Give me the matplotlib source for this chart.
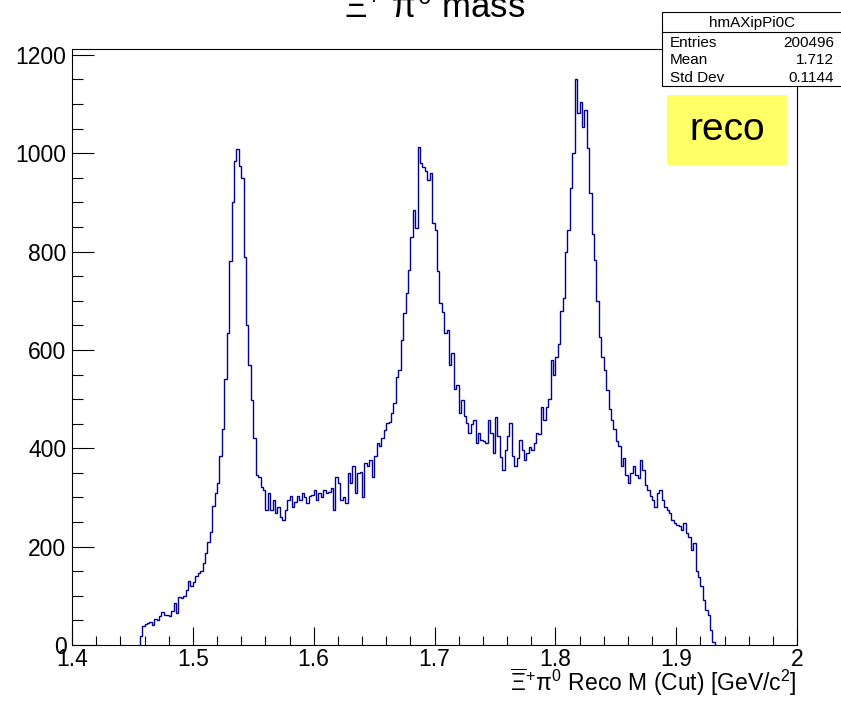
import numpy as np
import matplotlib
matplotlib.use("Agg")
import matplotlib.pyplot as plt
from matplotlib.patches import Rectangle
from matplotlib.lines import Line2D
from matplotlib.ticker import MultipleLocator, FixedLocator, FixedFormatter

plt.rcParams['font.family'] = ['Liberation Sans', 'DejaVu Sans']
plt.rcParams['mathtext.fontset'] = 'custom'
plt.rcParams['mathtext.rm'] = 'Liberation Sans'
plt.rcParams['mathtext.it'] = 'Liberation Sans'
plt.rcParams['mathtext.bf'] = 'Liberation Sans:bold'

# bin contents, 2 MeV bins starting at 1.456
first_edge = 1.456
bin_width = 0.002

low_tail = [18, 38, 42, 44, 47, 40, 52, 50, 58, 68, 62, 60, 58, 70, 85, 65,
            98, 95, 100, 112, 130, 120, 128, 140, 146, 150, 166, 187, 210,
            230, 282, 310, 330, 385, 440]
peak_1530 = [540, 634, 780, 900, 985, 1008, 975, 950, 790, 650, 570, 498,
             420, 346, 342, 322, 315, 275, 309, 275, 295, 268, 281, 261, 254,
             275, 295, 302, 281, 290, 302, 295, 309, 300, 289, 302, 305, 315,
             295, 309, 300, 315, 310]
peak_1690 = [312, 320, 275, 342, 330, 295, 300, 289, 349, 329, 363, 309, 349,
             352, 300, 370, 363, 376, 342, 385, 410, 405, 420, 437, 451, 454,
             472, 492, 545, 559, 620, 675, 715, 763, 830, 885, 848, 1013, 980,
             973, 963, 946, 959, 858, 844, 760, 696, 678, 634, 641, 570, 593,
             520, 528, 472, 498, 465, 451, 431]
peak_1820 = [450, 458, 410, 431, 417, 415, 410, 458, 431, 390, 464, 424, 383,
             356, 397, 424, 451, 385, 363, 380, 417, 397, 376, 390, 403, 397,
             410, 431, 430, 485, 458, 485, 500, 580, 550, 586, 613, 680, 705,
             800, 844, 930, 1000, 1152, 1082, 1105, 1054, 1088, 1010, 920, 835,
             783, 700, 627, 585, 559, 519, 480, 458, 440, 415]
high_tail = [405, 363, 380, 345, 330, 349, 363, 345, 340, 376, 356, 325, 315,
             302, 295, 281, 309, 315, 295, 281, 275, 268, 254, 248, 244, 241,
             234, 248, 228, 220, 193, 207, 150, 139, 119, 92, 71, 60, 30, 6]

counts = np.array(low_tail + peak_1530 + peak_1690 + peak_1820 + high_tail, dtype=float)
edges = first_edge + bin_width * np.arange(len(counts) + 1)

x_ticks = [1.4, 1.5, 1.6, 1.7, 1.8, 1.9, 2.0]
x_tick_labels = ['1.4', '1.5', '1.6', '1.7', '1.8', '1.9', '2']

stat_name = "hmAXipPi0C"
stat_labels = ["Entries", "Mean", "Std Dev"]
stat_values = ["200496", "1.712", "0.1144"]

W, H = 841, 704


def fx(px):
    return px / W


def fy(py):
    return 1 - py / H


fig = plt.figure(figsize=(W / 100, H / 100), dpi=100)
ax = fig.add_axes([fx(72), fy(645), fx(797) - fx(72), fy(49) - fy(645)])

ax.stairs(counts, edges, color='#000099', linewidth=1.0, baseline=0)

ax.set_xlim(1.4, 2.0)
ax.set_ylim(0, 1212)

ax.xaxis.set_major_locator(FixedLocator(x_ticks))
ax.xaxis.set_major_formatter(FixedFormatter(x_tick_labels))
ax.xaxis.set_minor_locator(MultipleLocator(0.02))
ax.yaxis.set_major_locator(MultipleLocator(200))
ax.yaxis.set_minor_locator(MultipleLocator(50))

ax.tick_params(axis='x', which='major', direction='in', length=13, width=0.8,
               labelsize=16.5, pad=2)
ax.tick_params(axis='x', which='minor', direction='in', length=6.5, width=0.8)
ax.tick_params(axis='y', which='major', direction='in', length=15.8, width=0.8,
               labelsize=16.5, pad=4)
ax.tick_params(axis='y', which='minor', direction='in', length=7.9, width=0.8)
for s in ax.spines.values():
    s.set_linewidth(0.8)

# x axis title, right aligned like ROOT
fig.text(fx(797), fy(691), r'$\overline{\Xi}^{+}\pi^{0}$ Reco M (Cut) [GeV/c$^{2}$]',
         ha='right', va='baseline', fontsize=16.5)

# histogram title, partly cut at the top edge
fig.text(fx(435), fy(18), r'$\Xi^{+}$ $\pi^{0}$ mass', ha='center', va='baseline',
         fontsize=25)

# stats box
fig.add_artist(Rectangle((fx(662), fy(86)), fx(850) - fx(662), fy(12) - fy(86),
                         transform=fig.transFigure, facecolor='white',
                         edgecolor='black', linewidth=0.8, zorder=5))
fig.add_artist(Line2D([fx(662), fx(850)], [fy(32), fy(32)], transform=fig.transFigure,
                      color='black', linewidth=0.8, zorder=6))
fig.text(fx(752), fy(27), stat_name, ha='center', va='baseline', fontsize=11, zorder=7)
for i, (lab, val) in enumerate(zip(stat_labels, stat_values)):
    yb = fy(47 + i * 17.5)
    fig.text(fx(670), yb, lab, ha='left', va='baseline', fontsize=11, zorder=7)
    fig.text(fx(834), yb, val, ha='right', va='baseline', fontsize=11, zorder=7)

# yellow label
fig.add_artist(Rectangle((fx(667), fy(165)), fx(787) - fx(667), fy(95) - fy(165),
                         transform=fig.transFigure, facecolor='#ffff66',
                         edgecolor='none', zorder=5))
fig.text(fx(727), fy(130), 'reco', ha='center', va='center', fontsize=28, zorder=7)

fig.savefig('out.png', dpi=100)
